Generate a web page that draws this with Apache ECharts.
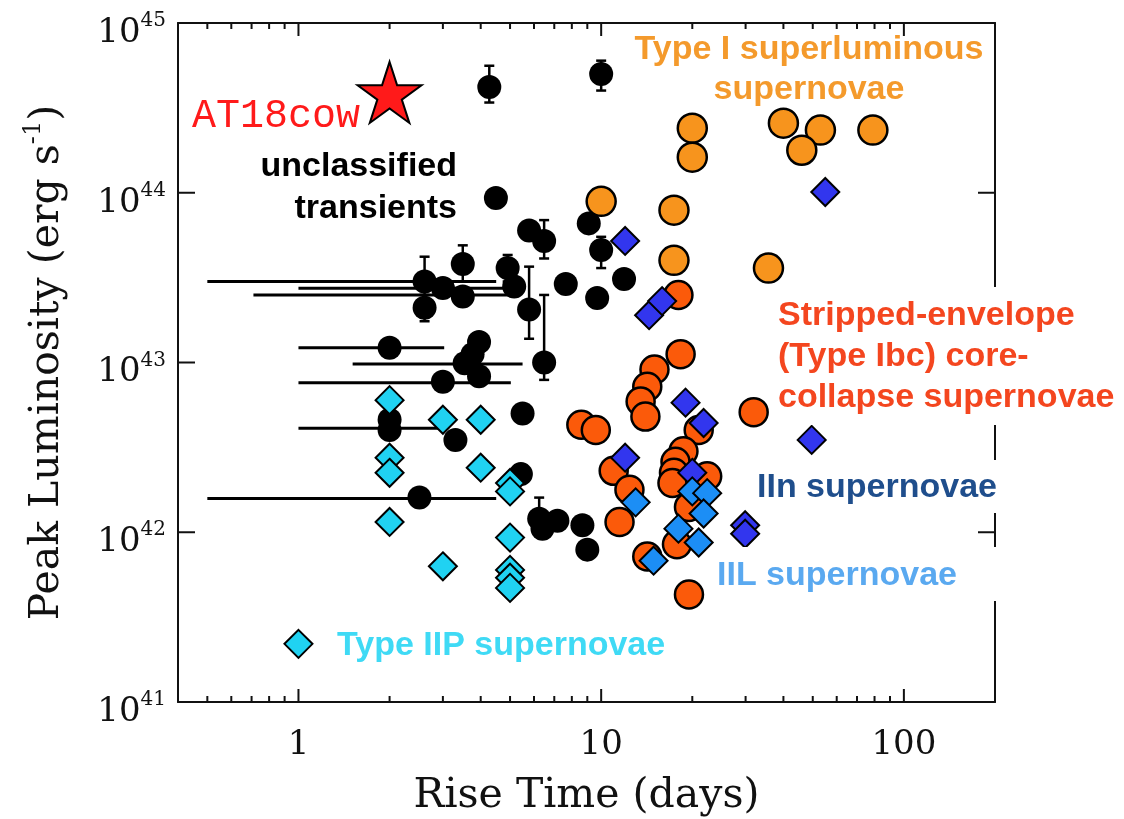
<!DOCTYPE html>
<html>
<head>
<meta charset="utf-8">
<title>Rise time vs peak luminosity of optical transients</title>
<script src="https://cdn.jsdelivr.net/npm/echarts@6/dist/echarts.min.js"></script>
<style>
  html, body { margin: 0; padding: 0; background: #fff; }
  #chart { width: 1124px; height: 819px; }
</style>
</head>
<body>
<div id="chart"></div>
<script>
// ---- data: [rise time (days), peak luminosity (erg/s)] ----
const unclassified = [
  [4.27, 4.2e44], [10.0, 5.0e44], [4.49, 9.3e43], [5.78, 6.0e43], [6.48, 5.2e43],
  [9.1, 6.6e43], [10.0, 4.6e43], [3.49, 3.8e43], [2.61, 3.0e43], [3.0, 2.75e43],
  [2.61, 2.1e43], [3.49, 2.45e43], [4.91, 3.6e43], [5.16, 2.8e43], [5.78, 2.05e43],
  [6.48, 1.0e43], [7.64, 2.9e43], [9.7, 2.4e43], [11.9, 3.1e43], [2.0, 1.22e43],
  [3.54, 9.9e42], [3.76, 1.12e43], [3.95, 1.32e43], [3.0, 7.7e42], [3.95, 8.3e42],
  [5.5, 5.0e42], [2.0, 4.6e42], [2.0, 4.0e42], [3.3, 3.5e42], [5.43, 2.2e42],
  [2.51, 1.6e42], [6.24, 1.2e42], [7.17, 1.17e42], [6.4, 1.05e42], [8.67, 1.1e42],
  [9.0, 7.9e41]
];
// vertical error bars: [rise, lum, lum low, lum high]
const unclassifiedLumErr = [
  [4.27, 4.2e44, 3.4e44, 5.6e44], [10.0, 5.0e44, 4.0e44, 6.0e44],
  [6.48, 5.2e43, 4.1e43, 6.9e43], [10.0, 4.6e43, 3.6e43, 5.5e43],
  [3.49, 3.8e43, 3.0e43, 4.9e43], [2.61, 3.0e43, 2.35e43, 4.2e43],
  [2.61, 2.1e43, 1.75e43, 2.5e43], [4.91, 3.6e43, 3.0e43, 4.3e43],
  [5.78, 2.05e43, 1.38e43, 3.67e43], [6.48, 1.0e43, 7.9e42, 2.5e43],
  [6.24, 1.2e42, 1.07e42, 1.6e42]
];
// horizontal error bars: [rise, lum, rise low, rise high]
const unclassifiedRiseErr = [
  [2.61, 3.0e43, 0.5, 4.5], [3.0, 2.74e43, 1.0, 4.96], [3.49, 2.5e43, 0.71, 5.03],
  [2.0, 1.22e43, 1.0, 3.03], [3.54, 9.8e42, 1.51, 5.5], [3.0, 7.6e42, 1.0, 5.03],
  [2.0, 4.1e42, 1.0, 2.89], [2.51, 1.58e42, 0.5, 4.5]
];
const slsnI = [
  [20, 2.4e44], [20, 1.62e44], [40, 2.57e44], [53, 2.34e44], [46, 1.78e44],
  [79, 2.34e44], [10, 8.9e43], [17.4, 7.9e43], [17.4, 4.0e43], [35.7, 3.6e43]
];
const strippedIbc = [
  [18.0, 2.5e43], [18.3, 1.12e43], [15.0, 9.1e42], [14.2, 7.2e42], [13.5, 5.9e42],
  [14.0, 4.8e42], [8.6, 4.3e42], [9.6, 4.0e42], [31.9, 5.1e42], [21.0, 4.0e42],
  [18.7, 3.0e42], [17.6, 2.6e42], [17.4, 2.24e42], [17.2, 1.95e42], [22.4, 2.14e42],
  [19.5, 1.41e42], [11.0, 2.3e42], [12.4, 1.78e42], [11.5, 1.15e42], [17.8, 8.5e41],
  [14.2, 7.2e41], [19.5, 4.3e41]
];
const typeIIn = [
  [55, 1.01e44], [12.0, 5.2e43], [14.4, 1.9e43], [15.9, 2.3e43], [19.0, 5.8e42],
  [21.8, 4.4e42], [49.6, 3.5e42], [12.0, 2.75e42], [20.0, 2.24e42], [29.9, 1.1e42],
  [29.9, 9.8e41]
];
const typeIIL = [
  [13.0, 1.5e42], [20.0, 1.74e42], [22.4, 1.7e42], [21.8, 1.29e42], [18.0, 1.05e42],
  [21.0, 8.7e41], [14.9, 6.8e41]
];
const typeIIP = [
  [2, 6.0e42], [3, 4.6e42], [4, 4.6e42], [2, 2.75e42], [2, 2.24e42], [4, 2.4e42],
  [5, 1.95e42], [5, 1.74e42], [2, 1.15e42], [5, 9.3e41], [3, 6.3e41], [5, 6.0e41],
  [5, 5.4e41], [5, 4.7e41], [1, 2.2e41]
];
const at2018cow = [[2.0, 3.9e44]];

// ---- axes ----
const riseRange = [0.4, 200];
const lumRange = [1e41, 1e45];
const riseMajorTicks = [1, 10, 100];
const riseMinorTicks = [0.5, 0.6, 0.7, 0.8, 0.9, 2, 3, 4, 5, 6, 7, 8, 9, 20, 30, 40, 50, 60, 70, 80, 90];
const lumMajorTicks = [1e42, 1e43, 1e44];

const serif = '"DejaVu Serif", serif';
const sans = '"Liberation Sans", Arial, sans-serif';

// inward tick marks on all four sides: [rise, lum, length, side]
const tickMarks = [];
riseMajorTicks.forEach(v => { tickMarks.push([v, lumRange[0], 13, 0], [v, lumRange[1], 13, 1]); });
riseMinorTicks.forEach(v => { tickMarks.push([v, lumRange[0], 6, 0], [v, lumRange[1], 6, 1]); });
lumMajorTicks.forEach(v => { tickMarks.push([riseRange[0], v, 17, 2], [riseRange[1], v, 17, 3]); });

function starSymbol() {
  const pts = [];
  for (let i = 0; i < 10; i++) {
    const r = i % 2 ? 0.382 : 1;
    const a = -Math.PI / 2 + i * Math.PI / 5;
    pts.push((r * Math.cos(a)).toFixed(4) + ',' + (r * Math.sin(a)).toFixed(4));
  }
  return 'path://M' + pts.join('L') + 'Z';
}

function isDecade(v) {
  const l = Math.log10(v);
  return Math.abs(l - Math.round(l)) < 1e-6;
}

const chart = echarts.init(document.getElementById('chart'), null, { renderer: 'canvas' });

const frameLine = { show: true, onZero: false, lineStyle: { color: '#111', width: 2 } };

const option = {
  animation: false,
  backgroundColor: '#fff',
  grid: { left: 178, top: 23, width: 817, height: 679, containLabel: false, outerBoundsMode: 'none' },
  xAxis: [
    {
      type: 'log', logBase: 10, min: riseRange[0], max: riseRange[1], position: 'bottom',
      axisLine: frameLine, axisTick: { show: false }, splitLine: { show: false },
      axisLabel: {
        margin: 26, color: '#111', fontFamily: serif, fontSize: 34,
        formatter: v => isDecade(v) ? String(Math.round(v)) : ''
      },
      name: 'Rise Time (days)', nameLocation: 'middle', nameGap: 74,
      nameTextStyle: { fontFamily: serif, fontSize: 41, color: '#111' }
    },
    {
      type: 'log', logBase: 10, min: riseRange[0], max: riseRange[1], position: 'top',
      axisLine: frameLine, axisTick: { show: false }, axisLabel: { show: false }, splitLine: { show: false }
    }
  ],
  yAxis: [
    {
      type: 'log', logBase: 10, min: lumRange[0], max: lumRange[1], position: 'left',
      axisLine: frameLine, axisTick: { show: false }, splitLine: { show: false },
      axisLabel: {
        margin: 12, color: '#111', padding: [20, 0, 0, 0],
        formatter: v => isDecade(v) ? '{b|10}{s|' + Math.round(Math.log10(v)) + '}' : '',
        rich: {
          b: { fontFamily: serif, fontSize: 34, color: '#111' },
          s: { fontFamily: serif, fontSize: 20, color: '#111', verticalAlign: 'bottom', padding: [0, 0, 24, 0] }
        }
      },
      name: '{n|Peak Luminosity (erg s}{s|-1}{n|)}', nameLocation: 'middle', nameGap: 106,
      nameTextStyle: {
        rich: {
          n: { fontFamily: serif, fontSize: 41, color: '#111' },
          s: { fontFamily: serif, fontSize: 24, color: '#111', verticalAlign: 'bottom', padding: [0, 0, 26, 0] }
        }
      }
    },
    {
      type: 'log', logBase: 10, min: lumRange[0], max: lumRange[1], position: 'right',
      axisLine: frameLine, axisTick: { show: false }, axisLabel: { show: false }, splitLine: { show: false }
    }
  ],
  series: [
    {
      type: 'custom', name: 'ticks', coordinateSystem: 'cartesian2d', clip: false, silent: true,
      encode: { x: 0, y: 1 }, data: tickMarks, z: 1,
      renderItem: (params, api) => {
        const p = api.coord([api.value(0), api.value(1)]);
        const len = api.value(2), side = api.value(3);
        const d = [[0, -len], [0, len], [len, 0], [-len, 0]][side];
        return {
          type: 'line',
          shape: { x1: p[0], y1: p[1], x2: p[0] + d[0], y2: p[1] + d[1] },
          style: { stroke: '#111', lineWidth: 2 }
        };
      }
    },
    {
      type: 'custom', name: 'rise errors', coordinateSystem: 'cartesian2d', silent: true,
      encode: { x: 0, y: 1 }, data: unclassifiedRiseErr,
      renderItem: (params, api) => {
        const a = api.coord([api.value(2), api.value(1)]);
        const b = api.coord([api.value(3), api.value(1)]);
        return {
          type: 'line', shape: { x1: a[0], y1: a[1], x2: b[0], y2: b[1] },
          style: { stroke: '#000', lineWidth: 3 }
        };
      }
    },
    {
      type: 'custom', name: 'luminosity errors', coordinateSystem: 'cartesian2d', silent: true,
      encode: { x: 0, y: 1 }, data: unclassifiedLumErr,
      renderItem: (params, api) => {
        const a = api.coord([api.value(0), api.value(2)]);
        const b = api.coord([api.value(0), api.value(3)]);
        const c = 5, st = { stroke: '#000', lineWidth: 2.5 };
        return {
          type: 'group', children: [
            { type: 'line', shape: { x1: a[0], y1: a[1], x2: b[0], y2: b[1] }, style: st },
            { type: 'line', shape: { x1: a[0] - c, y1: a[1], x2: a[0] + c, y2: a[1] }, style: st },
            { type: 'line', shape: { x1: b[0] - c, y1: b[1], x2: b[0] + c, y2: b[1] }, style: st }
          ]
        };
      }
    },
    {
      type: 'scatter', name: 'unclassified transients', data: unclassified,
      symbol: 'circle', symbolSize: 24, itemStyle: { color: '#000', opacity: 1 }
    },
    {
      type: 'scatter', name: 'Type I superluminous supernovae', data: slsnI,
      symbol: 'circle', symbolSize: 29,
      itemStyle: { color: '#F7941D', borderColor: '#000', borderWidth: 2.5, opacity: 1 }
    },
    {
      type: 'scatter', name: 'Stripped-envelope (Type Ibc) core-collapse supernovae', data: strippedIbc,
      symbol: 'circle', symbolSize: 28,
      itemStyle: { color: '#FB5A0A', borderColor: '#000', borderWidth: 2.5, opacity: 1 }
    },
    {
      type: 'scatter', name: 'IIn supernovae', data: typeIIn,
      symbol: 'diamond', symbolSize: 28,
      itemStyle: { color: '#3236EE', borderColor: '#000', borderWidth: 2, opacity: 1 }
    },
    {
      type: 'scatter', name: 'IIL supernovae', data: typeIIL,
      symbol: 'diamond', symbolSize: 28,
      itemStyle: { color: '#1C8EF5', borderColor: '#000', borderWidth: 2, opacity: 1 }
    },
    {
      type: 'scatter', name: 'Type IIP supernovae', data: typeIIP,
      symbol: 'diamond', symbolSize: 28,
      itemStyle: { color: '#20D2F2', borderColor: '#000', borderWidth: 2, opacity: 1 }
    },
    {
      type: 'scatter', name: 'AT18cow', data: at2018cow,
      symbol: starSymbol(), symbolSize: [64, 61],
      itemStyle: { color: '#FF1A1A', borderColor: '#000', borderWidth: 2, opacity: 1 }
    }
  ],
  graphic: [
    {
      type: 'text', x: 360, y: 116, z: 100,
      style: { text: 'AT18cow', fill: '#FF1A1A', font: '40px "Liberation Mono", monospace',
               align: 'right', verticalAlign: 'middle', textAlign: 'right', textVerticalAlign: 'middle' }
    },
    {
      type: 'text', x: 457, y: 146, z: 100,
      style: { text: 'unclassified\ntransients', fill: '#000', font: 'bold 34px ' + sans, lineHeight: 42,
               align: 'right', verticalAlign: 'top', textAlign: 'right', textVerticalAlign: 'top' }
    },
    {
      type: 'text', x: 809, y: 30, z: 100,
      style: { text: 'Type I superluminous\nsupernovae', fill: '#F49A2C', font: 'bold 34px ' + sans, lineHeight: 40,
               align: 'center', verticalAlign: 'top', textAlign: 'center', textVerticalAlign: 'top' }
    },
    {
      type: 'text', x: 770, y: 287, z: 100,
      style: { text: 'Stripped-envelope\n(Type Ibc) core-\ncollapse supernovae', fill: '#F4461F',
               font: 'bold 34px ' + sans, lineHeight: 41,
               align: 'left', verticalAlign: 'top', textAlign: 'left', textVerticalAlign: 'top',
               backgroundColor: '#fff', padding: [8, 8, 7, 8] }
    },
    {
      type: 'text', x: 751, y: 460, z: 100,
      style: { text: 'IIn supernovae', fill: '#1F4E8C', font: 'bold 34px ' + sans, lineHeight: 41,
               align: 'left', verticalAlign: 'top', textAlign: 'left', textVerticalAlign: 'top',
               backgroundColor: '#fff', padding: [7, 10, 5, 6] }
    },
    {
      type: 'text', x: 713, y: 547, z: 100,
      style: { text: 'IIL supernovae', fill: '#5AA9F0', font: 'bold 34px ' + sans, lineHeight: 41,
               align: 'left', verticalAlign: 'top', textAlign: 'left', textVerticalAlign: 'top',
               backgroundColor: '#fff', padding: [8, 42, 5, 4] }
    },
    {
      type: 'text', x: 337, y: 625, z: 100,
      style: { text: 'Type IIP supernovae', fill: '#3FDAF5', font: 'bold 34px ' + sans, lineHeight: 41,
               align: 'left', verticalAlign: 'top', textAlign: 'left', textVerticalAlign: 'top' }
    }
  ]
};

chart.setOption(option);
</script>
</body>
</html>
